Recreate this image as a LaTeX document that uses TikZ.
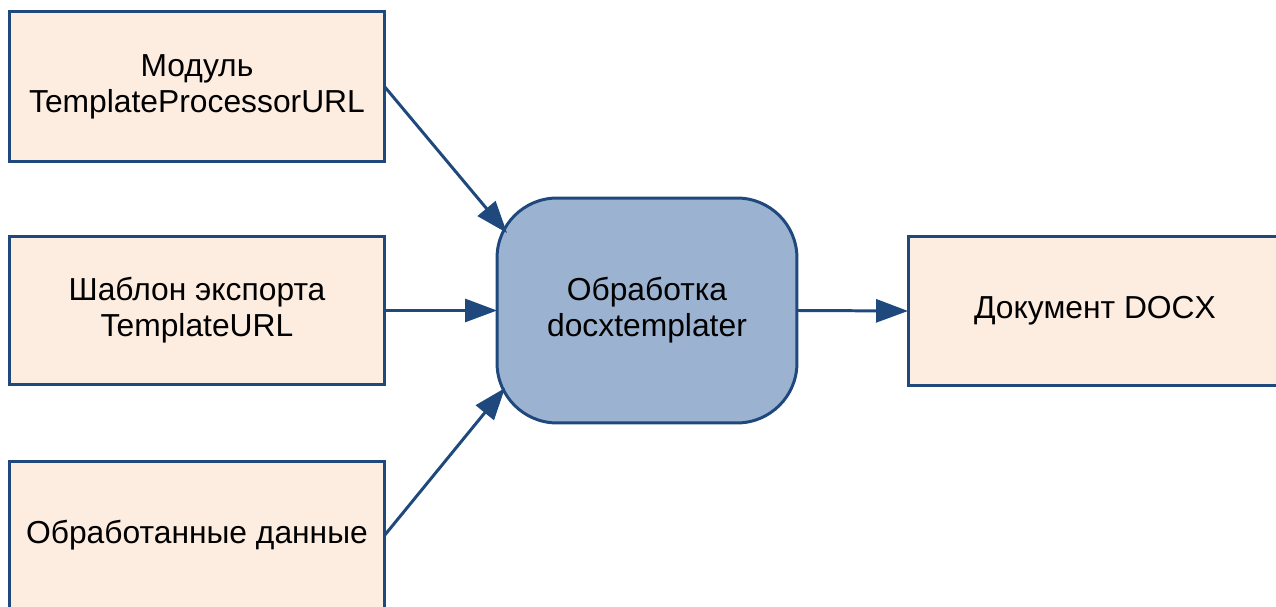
\documentclass[tikz,border=0pt]{standalone}
\usepackage{fontspec}
\setmainfont{Liberation Sans}
\usetikzlibrary{arrows.meta}
\definecolor{boxfill}{HTML}{FDEDE0}
\definecolor{edgeblue}{HTML}{1F497D}
\definecolor{procfill}{HTML}{9BB3D1}
\begin{document}
\begin{tikzpicture}[x=0.02cm, y=0.02cm]
  \tikzstyle{every node}+=[inner sep=0pt, outer sep=0pt, align=center, font=\fontsize{18.1pt}{20.5pt}\selectfont]
  \tikzstyle{databox}=[draw=edgeblue, line width=1.7pt, fill=boxfill, rectangle]
  \tikzstyle{procbox}=[draw=edgeblue, line width=1.7pt, fill=procfill, rectangle, rounded corners=1.2cm, minimum width=6cm, minimum height=4.5cm]
  \tikzstyle{flow}=[draw=edgeblue, line width=1.7pt, -{Triangle[length=0.64cm, width=0.46cm]}]
  \useasboundingbox (0,0) rectangle (1276,-607);
  \node [databox, minimum width=7.5cm, minimum height=3.02cm] (module) at (197,-86.5) {Модуль\\TemplateProcessorURL};
  \node [databox, minimum width=7.5cm, minimum height=2.98cm] (template) at (197,-310.5) {Шаблон экспорта\\TemplateURL};
  \node [databox, minimum width=7.5cm, minimum height=2.98cm] (data) at (197,-535.5) {Обработанные данные};
  \node [procbox] (proc) at (647,-310.5) {Обработка\\docxtemplater};
  \node [databox, minimum width=7.48cm, minimum height=3cm] (docx) at (1095,-311) {Документ DOCX};
  \coordinate (inmod) at (507,-233);
  \coordinate (indata) at (505,-388);
  \draw [flow] (module.east) -- (inmod);
  \draw [flow] (template.east) -- (proc.west);
  \draw [flow] (data.east) -- (indata);
  \draw [flow] (proc.east) -- (docx.west);
\end{tikzpicture}
\end{document}
